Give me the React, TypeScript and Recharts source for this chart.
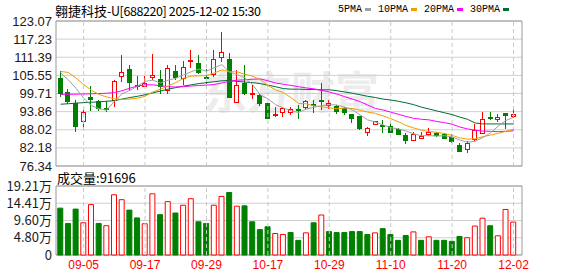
import {
  ComposedChart,
  BarChart,
  Bar,
  Line,
  XAxis,
  YAxis,
  CartesianGrid,
  ReferenceLine,
  ReferenceArea,
  Cell,
} from 'recharts';

const RED = '#ff0000';
const GREEN = '#008000';
const FONT = '"Liberation Sans", Arial, sans-serif';
const MONO = '"Liberation Mono", "DejaVu Sans Mono", monospace';
const CJK = '"Noto Sans CJK SC", "Liberation Sans", sans-serif';

// trading days shown, 2025-09-02 .. 2025-12-02
const dates = [
  '09-02', '09-03', '09-04', '09-05', '09-08', '09-09', '09-10', '09-11', '09-12', '09-15',
  '09-16', '09-17', '09-18', '09-19', '09-22', '09-23', '09-24', '09-25', '09-26', '09-29',
  '09-30', '10-09', '10-10', '10-13', '10-14', '10-15', '10-16', '10-17', '10-20', '10-21',
  '10-22', '10-23', '10-24', '10-27', '10-28', '10-29', '10-30', '10-31', '11-03', '11-04',
  '11-05', '11-06', '11-07', '11-10', '11-11', '11-12', '11-13', '11-14', '11-17', '11-18',
  '11-19', '11-20', '11-21', '11-24', '11-25', '11-26', '11-27', '11-28', '12-01', '12-02',
];

const opens = [
  104.43, 99.91, 96.58, 90.77, 98.3, 97.01, 94.97, 97.44, 105.18, 107.33,
  102.38, 102.06, 104.76, 104.11, 100.66, 106.79, 104.54, 109.91, 109.27, 104.97,
  105.72, 111.42, 110.77, 96.9, 103.03, 99.27, 98.94, 96.36, 92.6, 93.68,
  93.57, 94.43, 95.29, 96.26, 97.44, 95.93, 95.5, 94.97, 92.81, 92.28,
  87.12, 89.8, 89.27, 89.05, 88.19, 86.15, 84.54, 85.18, 86.47, 86.69,
  86.36, 85.5, 82.92, 81.74, 84.75, 86.9, 91.85, 91.31, 93.35, 92.17,
];
const highs = [
  106.8, 101.09, 97.66, 94.43, 102.17, 97.66, 97.44, 104.11, 112.17, 108.73,
  105.4, 105.4, 112.49, 107.33, 108.94, 108.94, 110.02, 113.78, 112.17, 107.55,
  113.57, 119.37, 112.71, 107.12, 108.94, 102.49, 99.59, 96.58, 95.29, 95.29,
  95.29, 96.04, 97.66, 97.66, 103.24, 97.66, 96.04, 95.29, 92.81, 92.28,
  88.84, 90.77, 91.2, 90.34, 88.52, 86.9, 87.44, 87.44, 88.51, 87.44,
  86.9, 86.58, 83.68, 84.43, 89.91, 93.78, 93.78, 93.14, 93.35, 94.75,
];
const lows = [
  98.5, 96.36, 87.44, 88.73, 94.21, 94.21, 93.89, 95.5, 103.36, 100.66,
  100.88, 101.95, 104.11, 99.59, 99.59, 104.11, 102.49, 107.87, 106.04, 102.81,
  105.18, 109.7, 98.19, 96.6, 99.27, 97.87, 95.83, 91.52, 92.28, 92.28,
  92.81, 91.42, 94.43, 93.57, 94.43, 94.64, 93.14, 92.81, 90.13, 87.98,
  86.15, 89.48, 86.9, 86.9, 86.37, 83.46, 84.4, 85.0, 86.15, 85.82,
  84.96, 83.68, 80.99, 80.66, 84.54, 86.68, 91.2, 90.56, 88.3, 91.85,
];
const closes = [
  99.59, 97.12, 89.05, 93.68, 97.66, 94.86, 94.64, 103.68, 106.36, 103.24,
  101.96, 103.03, 105.4, 101.96, 107.87, 104.97, 108.19, 110.34, 106.47, 104.54,
  110.56, 113.03, 98.51, 102.17, 99.8, 99.59, 96.58, 91.74, 92.81, 94.75,
  94.64, 94.21, 97.12, 95.72, 97.12, 96.36, 93.89, 93.57, 91.74, 88.51,
  88.3, 90.56, 89.05, 87.12, 86.58, 84.54, 86.36, 85.83, 87.12, 86.04,
  85.18, 84.11, 80.99, 83.46, 87.65, 91.42, 91.52, 91.85, 92.6, 92.81,
];

const ma5 = [
  106.3, 104.1, 101.4, 98.2, 95.8, 94.8, 94.3, 97.2, 99.6, 100.7,
  102.0, 103.6, 104.0, 103.1, 104.0, 104.6, 105.7, 106.7, 107.6, 106.9,
  108.0, 109.0, 106.6, 105.8, 104.8, 102.6, 99.3, 98.0, 96.1, 95.1,
  94.1, 93.6, 94.7, 95.3, 95.8, 96.1, 96.0, 95.3, 94.5, 92.8,
  91.2, 90.5, 89.6, 88.7, 88.3, 87.6, 86.7, 86.1, 86.1, 86.0,
  86.1, 85.7, 84.7, 84.0, 84.3, 85.5, 87.0, 89.2, 91.0, 92.0,
];
const ma10 = [
  106.8, 106.5, 104.7, 102.6, 100.8, 99.4, 98.6, 98.0, 97.8, 97.9,
  98.2, 98.8, 100.2, 101.1, 102.1, 103.2, 104.6, 105.3, 105.4, 105.5,
  106.3, 107.3, 106.7, 106.7, 105.9, 105.3, 104.2, 102.3, 100.9, 100.0,
  98.4, 96.5, 96.4, 95.7, 95.4, 95.1, 94.8, 95.0, 94.9, 94.3,
  93.7, 93.3, 92.5, 91.6, 90.6, 89.4, 88.6, 87.9, 87.4, 87.2,
  86.8, 86.2, 85.4, 85.0, 85.1, 85.8, 86.3, 86.9, 87.5, 88.2,
];
const ma20 = [
  99.4, 99.45, 99.5, 99.55, 99.6, 99.7, 99.8, 100.0, 100.6, 101.4,
  102.1, 102.5, 102.5, 102.2, 101.9, 101.8, 101.9, 102.1, 102.3, 102.4,
  102.6, 103.1, 103.6, 104.0, 104.1, 104.3, 104.4, 103.8, 103.1, 102.7,
  102.3, 101.9, 101.5, 101.2, 100.7, 100.2, 99.5, 98.7, 97.9, 97.1,
  96.0, 94.9, 94.4, 93.7, 93.0, 92.3, 91.7, 91.4, 91.2, 90.7,
  90.3, 89.8, 88.9, 88.3, 87.9, 87.6, 87.5, 87.4, 87.5, 87.7,
];
const ma30 = [
  96.25, 96.4, 96.6, 96.75, 96.9, 97.0, 97.2, 97.4, 97.9, 98.4,
  98.8, 99.3, 99.9, 100.5, 101.1, 101.6, 102.1, 102.5, 102.9, 103.2,
  103.5, 103.8, 103.9, 103.6, 103.4, 103.2, 102.9, 102.4, 101.9, 101.3,
  101.1, 101.1, 101.0, 101.0, 100.9, 100.9, 100.6, 100.2, 99.8, 99.3,
  98.8, 98.4, 97.9, 97.6, 97.2, 96.7, 96.1, 95.3, 94.7, 94.1,
  93.5, 92.9, 92.1, 91.4, 90.2, 89.9, 89.9, 89.9, 89.9, 89.9,
];

// 成交量 (手)
const volumes = [
  130500, 87900, 127800, 89700, 140400, 87900, 81500, 167600, 154000, 125000,
  103300, 87000, 170300, 112300, 148600, 116900, 138600, 156700, 92400, 87900,
  138600, 163100, 174000, 135900, 136800, 92400, 70700, 78800, 59800, 57100,
  62500, 40800, 61600, 89700, 111400, 65200, 62500, 62500, 65200, 65200,
  57100, 61600, 73400, 57100, 40800, 54400, 64300, 40800, 50700, 40800,
  40800, 38100, 51600, 48000, 80600, 102400, 81500, 53500, 126800, 91696,
];
// 1 = red (up) volume bar, 0 = green
const volUp = [
  0, 0, 0, 1, 1, 0, 1, 1, 1, 0,
  0, 1, 1, 0, 1, 0, 1, 1, 0, 0,
  1, 1, 0, 1, 0, 0, 0, 0, 1, 1,
  0, 0, 1, 0, 1, 0, 0, 0, 0, 0,
  0, 1, 0, 0, 0, 0, 1, 0, 1, 0,
  0, 0, 0, 1, 1, 1, 0, 1, 1, 1,
];

const priceTicks = [76.34, 82.18, 88.02, 93.86, 99.71, 105.55, 111.39, 117.23, 123.07];
const volTicks = [0, 48030, 96050, 144080, 192100];
const volTickLabels = ['0', '4.80万', '9.60万', '14.41万', '19.21万'];
const dateTicks = [3, 11, 19, 27, 35, 43, 51, 59];

const legendItems = [
  { name: '5PMA', color: '#a0a0a0' },
  { name: '10PMA', color: '#f0a000' },
  { name: '20PMA', color: '#ff00ff' },
  { name: '30PMA', color: '#006c36' },
];

const X_DOMAIN: [number, number] = [-0.6, 60.1];

const data = dates.map((date, i) => ({
  i,
  date,
  open: opens[i],
  high: highs[i],
  low: lows[i],
  close: closes[i],
  range: [lows[i], highs[i]],
  ma5: ma5[i],
  ma10: ma10[i],
  ma20: ma20[i],
  ma30: ma30[i],
  vol: volumes[i],
  up: volUp[i] === 1,
}));

// draws wick + body inside the [low, high] bar that recharts positions for us
const Candle = (props: any) => {
  const { x, y, width, height, payload } = props;
  const { open, close, high, low } = payload;
  const top = Math.min(y, y + height);
  const h = Math.abs(height);
  const span = high - low;
  const toY = (p: number) => (span === 0 ? top : top + ((high - p) / span) * h);
  const up = close >= open;
  const color = up ? RED : GREEN;
  const cx = Math.floor(x + width / 2) + 0.5;
  const bodyTop = toY(Math.max(open, close));
  const bodyBot = toY(Math.min(open, close));
  return (
    <g shapeRendering="crispEdges">
      <line x1={cx} x2={cx} y1={top} y2={top + h} stroke={color} />
      <rect
        x={cx - 2}
        y={bodyTop}
        width={4}
        height={Math.max(bodyBot - bodyTop, 1)}
        fill={up ? '#fff' : color}
        stroke={color}
      />
    </g>
  );
};

export default function App() {
  return (
    <div
      style={{
        position: 'absolute',
        left: 0,
        top: 0,
        width: 578,
        height: 276,
        background: '#fff',
        overflow: 'hidden',
      }}
    >
      {/* watermark, sits behind the candles */}
      <div
        style={{
          position: 'absolute',
          left: 203,
          top: 66,
          fontFamily: CJK,
          fontWeight: 700,
          fontSize: 44,
          lineHeight: '48px',
          color: '#ececec',
          whiteSpace: 'nowrap',
        }}
      >
        东方财富
      </div>

      <div style={{ position: 'absolute', left: 0, top: 0 }}>
        <ComposedChart
          width={578}
          height={176}
          data={data}
          margin={{ top: 21, right: 56, bottom: 10, left: 0 }}
        >
          <CartesianGrid vertical={false} stroke="#d0d0d0" />
          {dateTicks.map((t) => (
            <ReferenceLine key={t} x={t} stroke="#c8c8c8" strokeDasharray="4 3" />
          ))}
          <XAxis type="number" dataKey="i" domain={X_DOMAIN} allowDataOverflow hide />
          <YAxis
            type="number"
            domain={[76.34, 123.07]}
            ticks={priceTicks}
            interval={0}
            width={56}
            axisLine={false}
            tickLine={false}
            tickSize={0}
            tickMargin={4}
            tickFormatter={(v: number) => v.toFixed(2)}
            tick={{ fill: '#1a1a1a', fontSize: 13, fontFamily: FONT }}
          />
          <ReferenceArea
            x1={X_DOMAIN[0]}
            x2={X_DOMAIN[1]}
            y1={76.34}
            y2={123.07}
            fill="none"
            stroke="#999"
          />
          <Line dataKey="ma30" stroke="#006c36" dot={false} strokeWidth={1} isAnimationActive={false} />
          <Line dataKey="ma20" stroke="#ff00ff" dot={false} strokeWidth={1} isAnimationActive={false} />
          <Line dataKey="ma10" stroke="#f0a000" dot={false} strokeWidth={1} isAnimationActive={false} />
          <Line dataKey="ma5" stroke="#a0a0a0" dot={false} strokeWidth={1} isAnimationActive={false} />
          <Bar dataKey="range" barSize={5} shape={Candle} isAnimationActive={false} />
        </ComposedChart>
      </div>

      <div style={{ position: 'absolute', left: 0, top: 176 }}>
        <BarChart
          width={578}
          height={100}
          data={data}
          margin={{ top: 10, right: 56, bottom: 0, left: 0 }}
        >
          <CartesianGrid vertical={false} stroke="#d0d0d0" />
          {dateTicks.map((t) => (
            <ReferenceLine key={t} x={t} stroke="#c8c8c8" strokeDasharray="4 3" />
          ))}
          <XAxis
            type="number"
            dataKey="i"
            domain={X_DOMAIN}
            allowDataOverflow
            ticks={dateTicks}
            interval={0}
            height={21}
            axisLine={false}
            tickLine={false}
            tickSize={0}
            tickMargin={5}
            tickFormatter={(v: number) => dates[v]}
            tick={{ fill: RED, fontSize: 12, fontFamily: FONT }}
          />
          <YAxis
            type="number"
            domain={[0, 192100]}
            ticks={volTicks}
            interval={0}
            width={56}
            axisLine={false}
            tickLine={false}
            tickSize={0}
            tickMargin={4}
            tickFormatter={(v: number) => volTickLabels[volTicks.indexOf(v)]}
            tick={{ fill: '#1a1a1a', fontSize: 13, fontFamily: CJK }}
          />
          <ReferenceArea
            x1={X_DOMAIN[0]}
            x2={X_DOMAIN[1]}
            y1={0}
            y2={192100}
            fill="none"
            stroke="#999"
          />
          <Bar dataKey="vol" barSize={5} isAnimationActive={false}>
            {data.map((d) => (
              <Cell
                key={d.i}
                fill={d.up ? '#fff' : GREEN}
                stroke={d.up ? RED : GREEN}
              />
            ))}
          </Bar>
        </BarChart>
      </div>

      {/* header: name, code, time */}
      <div
        style={{
          position: 'absolute',
          left: 55,
          top: 0,
          fontFamily: CJK,
          lineHeight: '18px',
          color: '#000',
          whiteSpace: 'nowrap',
        }}
      >
        <span style={{ fontSize: 13 }}>翱捷科技</span>
        <span style={{ fontSize: 12.5, letterSpacing: -0.4 }}>-U[688220] 2025-12-02 15:30</span>
      </div>

      {/* MA legend */}
      <div
        style={{
          position: 'absolute',
          left: 338,
          top: 0,
          height: 18,
          display: 'flex',
          alignItems: 'center',
          fontFamily: MONO,
          fontSize: 10,
          color: '#000',
          whiteSpace: 'nowrap',
        }}
      >
        {legendItems.map((it) => (
          <span key={it.name} style={{ display: 'flex', alignItems: 'center', marginRight: 7 }}>
            {it.name}
            <span
              style={{
                display: 'inline-block',
                width: 6,
                height: 3,
                marginLeft: 3,
                background: it.color,
              }}
            />
          </span>
        ))}
      </div>

      <div
        style={{
          position: 'absolute',
          left: 57,
          top: 169,
          fontFamily: CJK,
          fontSize: 13,
          lineHeight: '18px',
          color: '#000',
          whiteSpace: 'nowrap',
        }}
      >
        成交量:{volumes[volumes.length - 1]}
      </div>
    </div>
  );
}
